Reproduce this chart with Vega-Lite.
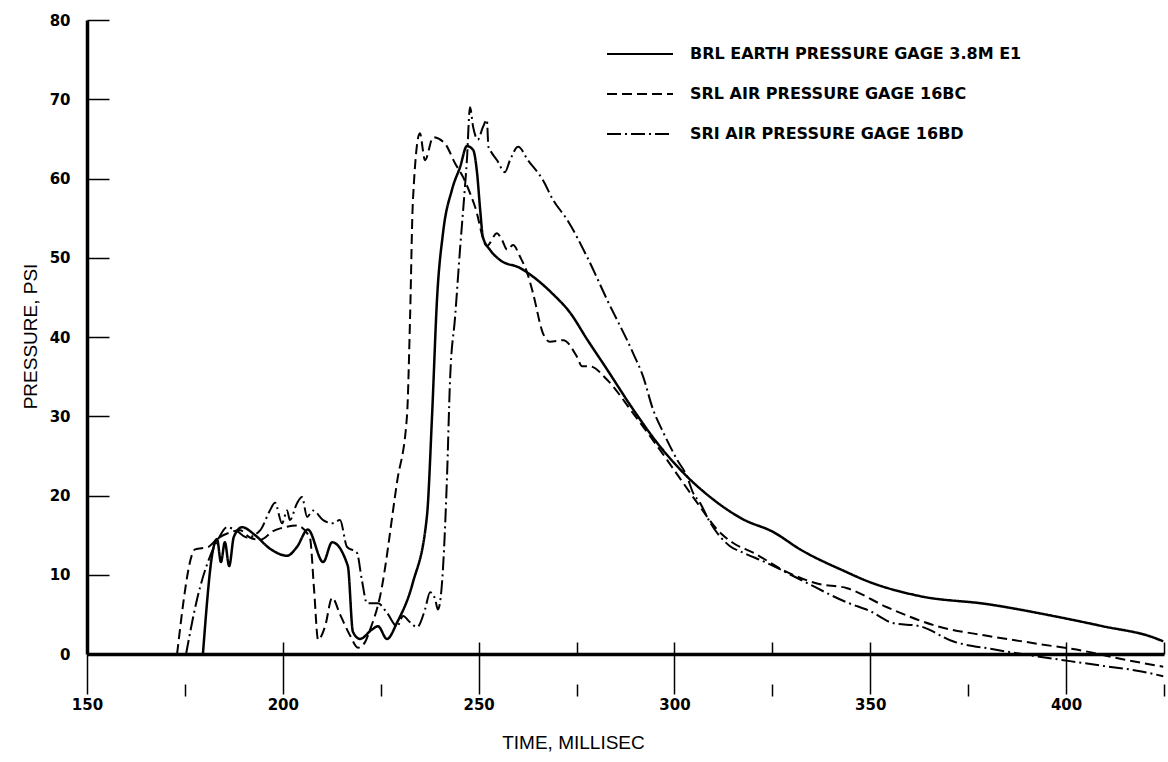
{
  "$schema": "https://vega.github.io/schema/vega-lite/v6.json",
  "width": 1077,
  "height": 634,
  "autosize": {"type": "none"},
  "padding": {"left": 87, "top": 20, "right": 4, "bottom": 108},
  "background": "white",
  "config": {"view": {"stroke": null}},
  "datasets": {
    "brl": [
      {"series": "BRL EARTH PRESSURE GAGE 3.8M E1", "t": 179.6, "p": 0},
      {"series": "BRL EARTH PRESSURE GAGE 3.8M E1", "t": 182.2, "p": 13.2},
      {"series": "BRL EARTH PRESSURE GAGE 3.8M E1", "t": 183.2, "p": 14.5},
      {"series": "BRL EARTH PRESSURE GAGE 3.8M E1", "t": 184.2, "p": 11.6},
      {"series": "BRL EARTH PRESSURE GAGE 3.8M E1", "t": 185.2, "p": 14.1},
      {"series": "BRL EARTH PRESSURE GAGE 3.8M E1", "t": 186.3, "p": 11.1},
      {"series": "BRL EARTH PRESSURE GAGE 3.8M E1", "t": 187.5, "p": 14.8},
      {"series": "BRL EARTH PRESSURE GAGE 3.8M E1", "t": 189.6, "p": 16.0},
      {"series": "BRL EARTH PRESSURE GAGE 3.8M E1", "t": 192.9, "p": 15.0},
      {"series": "BRL EARTH PRESSURE GAGE 3.8M E1", "t": 196.7, "p": 13.3},
      {"series": "BRL EARTH PRESSURE GAGE 3.8M E1", "t": 201.1, "p": 12.4},
      {"series": "BRL EARTH PRESSURE GAGE 3.8M E1", "t": 203.6, "p": 13.5},
      {"series": "BRL EARTH PRESSURE GAGE 3.8M E1", "t": 206.4, "p": 15.7},
      {"series": "BRL EARTH PRESSURE GAGE 3.8M E1", "t": 210.3, "p": 11.6},
      {"series": "BRL EARTH PRESSURE GAGE 3.8M E1", "t": 212.6, "p": 14.1},
      {"series": "BRL EARTH PRESSURE GAGE 3.8M E1", "t": 216.6, "p": 11.1},
      {"series": "BRL EARTH PRESSURE GAGE 3.8M E1", "t": 217.9, "p": 2.8},
      {"series": "BRL EARTH PRESSURE GAGE 3.8M E1", "t": 219.7, "p": 1.9},
      {"series": "BRL EARTH PRESSURE GAGE 3.8M E1", "t": 222.8, "p": 3.1},
      {"series": "BRL EARTH PRESSURE GAGE 3.8M E1", "t": 224.3, "p": 3.5},
      {"series": "BRL EARTH PRESSURE GAGE 3.8M E1", "t": 226.6, "p": 1.9},
      {"series": "BRL EARTH PRESSURE GAGE 3.8M E1", "t": 229.2, "p": 4.0},
      {"series": "BRL EARTH PRESSURE GAGE 3.8M E1", "t": 233.2, "p": 9.0},
      {"series": "BRL EARTH PRESSURE GAGE 3.8M E1", "t": 236.8, "p": 17.4},
      {"series": "BRL EARTH PRESSURE GAGE 3.8M E1", "t": 238.1, "p": 30.0},
      {"series": "BRL EARTH PRESSURE GAGE 3.8M E1", "t": 239.4, "p": 45.0},
      {"series": "BRL EARTH PRESSURE GAGE 3.8M E1", "t": 240.9, "p": 53.1},
      {"series": "BRL EARTH PRESSURE GAGE 3.8M E1", "t": 243.2, "p": 58.6},
      {"series": "BRL EARTH PRESSURE GAGE 3.8M E1", "t": 245.3, "p": 61.5},
      {"series": "BRL EARTH PRESSURE GAGE 3.8M E1", "t": 247.0, "p": 64.1},
      {"series": "BRL EARTH PRESSURE GAGE 3.8M E1", "t": 248.6, "p": 63.6},
      {"series": "BRL EARTH PRESSURE GAGE 3.8M E1", "t": 249.6, "p": 60.7},
      {"series": "BRL EARTH PRESSURE GAGE 3.8M E1", "t": 250.4, "p": 56.0},
      {"series": "BRL EARTH PRESSURE GAGE 3.8M E1", "t": 251.1, "p": 52.6},
      {"series": "BRL EARTH PRESSURE GAGE 3.8M E1", "t": 252.9, "p": 51.0},
      {"series": "BRL EARTH PRESSURE GAGE 3.8M E1", "t": 255.5, "p": 49.7},
      {"series": "BRL EARTH PRESSURE GAGE 3.8M E1", "t": 260.6, "p": 48.7},
      {"series": "BRL EARTH PRESSURE GAGE 3.8M E1", "t": 263.1, "p": 47.9},
      {"series": "BRL EARTH PRESSURE GAGE 3.8M E1", "t": 269.0, "p": 45.4},
      {"series": "BRL EARTH PRESSURE GAGE 3.8M E1", "t": 273.3, "p": 43.1},
      {"series": "BRL EARTH PRESSURE GAGE 3.8M E1", "t": 277.7, "p": 39.7},
      {"series": "BRL EARTH PRESSURE GAGE 3.8M E1", "t": 282.8, "p": 35.9},
      {"series": "BRL EARTH PRESSURE GAGE 3.8M E1", "t": 289.4, "p": 30.9},
      {"series": "BRL EARTH PRESSURE GAGE 3.8M E1", "t": 296.3, "p": 26.2},
      {"series": "BRL EARTH PRESSURE GAGE 3.8M E1", "t": 303.2, "p": 22.4},
      {"series": "BRL EARTH PRESSURE GAGE 3.8M E1", "t": 309.9, "p": 19.5},
      {"series": "BRL EARTH PRESSURE GAGE 3.8M E1", "t": 317.5, "p": 17.0},
      {"series": "BRL EARTH PRESSURE GAGE 3.8M E1", "t": 325.2, "p": 15.4},
      {"series": "BRL EARTH PRESSURE GAGE 3.8M E1", "t": 332.1, "p": 13.2},
      {"series": "BRL EARTH PRESSURE GAGE 3.8M E1", "t": 344.1, "p": 10.3},
      {"series": "BRL EARTH PRESSURE GAGE 3.8M E1", "t": 348.2, "p": 9.4},
      {"series": "BRL EARTH PRESSURE GAGE 3.8M E1", "t": 362.7, "p": 7.3},
      {"series": "BRL EARTH PRESSURE GAGE 3.8M E1", "t": 379.8, "p": 6.3},
      {"series": "BRL EARTH PRESSURE GAGE 3.8M E1", "t": 396.7, "p": 4.8},
      {"series": "BRL EARTH PRESSURE GAGE 3.8M E1", "t": 409.4, "p": 3.5},
      {"series": "BRL EARTH PRESSURE GAGE 3.8M E1", "t": 422.2, "p": 2.1},
      {"series": "BRL EARTH PRESSURE GAGE 3.8M E1", "t": 424.8, "p": 1.6}
    ],
    "srl": [
      {"series": "SRL AIR PRESSURE GAGE 16BC", "t": 173.0, "p": 0},
      {"series": "SRL AIR PRESSURE GAGE 16BC", "t": 177.6, "p": 13.2},
      {"series": "SRL AIR PRESSURE GAGE 16BC", "t": 180.9, "p": 13.5},
      {"series": "SRL AIR PRESSURE GAGE 16BC", "t": 183.2, "p": 14.5},
      {"series": "SRL AIR PRESSURE GAGE 16BC", "t": 185.8, "p": 15.2},
      {"series": "SRL AIR PRESSURE GAGE 16BC", "t": 189.1, "p": 15.6},
      {"series": "SRL AIR PRESSURE GAGE 16BC", "t": 191.6, "p": 14.7},
      {"series": "SRL AIR PRESSURE GAGE 16BC", "t": 194.2, "p": 14.4},
      {"series": "SRL AIR PRESSURE GAGE 16BC", "t": 197.5, "p": 15.5},
      {"series": "SRL AIR PRESSURE GAGE 16BC", "t": 200.5, "p": 16.0},
      {"series": "SRL AIR PRESSURE GAGE 16BC", "t": 203.6, "p": 16.2},
      {"series": "SRL AIR PRESSURE GAGE 16BC", "t": 206.9, "p": 14.7},
      {"series": "SRL AIR PRESSURE GAGE 16BC", "t": 208.0, "p": 8.0},
      {"series": "SRL AIR PRESSURE GAGE 16BC", "t": 209.0, "p": 1.8},
      {"series": "SRL AIR PRESSURE GAGE 16BC", "t": 210.8, "p": 3.5},
      {"series": "SRL AIR PRESSURE GAGE 16BC", "t": 212.6, "p": 7.1},
      {"series": "SRL AIR PRESSURE GAGE 16BC", "t": 214.6, "p": 5.0},
      {"series": "SRL AIR PRESSURE GAGE 16BC", "t": 217.2, "p": 2.3},
      {"series": "SRL AIR PRESSURE GAGE 16BC", "t": 219.2, "p": 0.8},
      {"series": "SRL AIR PRESSURE GAGE 16BC", "t": 221.0, "p": 1.5},
      {"series": "SRL AIR PRESSURE GAGE 16BC", "t": 222.3, "p": 3.1},
      {"series": "SRL AIR PRESSURE GAGE 16BC", "t": 224.8, "p": 7.2},
      {"series": "SRL AIR PRESSURE GAGE 16BC", "t": 229.2, "p": 21.8},
      {"series": "SRL AIR PRESSURE GAGE 16BC", "t": 231.7, "p": 30.0},
      {"series": "SRL AIR PRESSURE GAGE 16BC", "t": 232.5, "p": 42.6},
      {"series": "SRL AIR PRESSURE GAGE 16BC", "t": 233.2, "p": 57.0},
      {"series": "SRL AIR PRESSURE GAGE 16BC", "t": 235.0, "p": 65.7},
      {"series": "SRL AIR PRESSURE GAGE 16BC", "t": 236.3, "p": 62.3},
      {"series": "SRL AIR PRESSURE GAGE 16BC", "t": 238.4, "p": 65.2},
      {"series": "SRL AIR PRESSURE GAGE 16BC", "t": 241.4, "p": 64.4},
      {"series": "SRL AIR PRESSURE GAGE 16BC", "t": 244.0, "p": 61.9},
      {"series": "SRL AIR PRESSURE GAGE 16BC", "t": 246.0, "p": 60.2},
      {"series": "SRL AIR PRESSURE GAGE 16BC", "t": 249.1, "p": 56.4},
      {"series": "SRL AIR PRESSURE GAGE 16BC", "t": 252.1, "p": 51.5},
      {"series": "SRL AIR PRESSURE GAGE 16BC", "t": 254.7, "p": 53.1},
      {"series": "SRL AIR PRESSURE GAGE 16BC", "t": 256.0, "p": 52.2},
      {"series": "SRL AIR PRESSURE GAGE 16BC", "t": 257.3, "p": 51.0},
      {"series": "SRL AIR PRESSURE GAGE 16BC", "t": 258.8, "p": 51.6},
      {"series": "SRL AIR PRESSURE GAGE 16BC", "t": 260.6, "p": 50.1},
      {"series": "SRL AIR PRESSURE GAGE 16BC", "t": 262.4, "p": 48.1},
      {"series": "SRL AIR PRESSURE GAGE 16BC", "t": 263.9, "p": 45.5},
      {"series": "SRL AIR PRESSURE GAGE 16BC", "t": 266.4, "p": 40.5},
      {"series": "SRL AIR PRESSURE GAGE 16BC", "t": 268.2, "p": 39.4},
      {"series": "SRL AIR PRESSURE GAGE 16BC", "t": 271.6, "p": 39.6},
      {"series": "SRL AIR PRESSURE GAGE 16BC", "t": 275.1, "p": 37.5},
      {"series": "SRL AIR PRESSURE GAGE 16BC", "t": 276.4, "p": 36.3},
      {"series": "SRL AIR PRESSURE GAGE 16BC", "t": 278.4, "p": 36.3},
      {"series": "SRL AIR PRESSURE GAGE 16BC", "t": 282.8, "p": 34.6},
      {"series": "SRL AIR PRESSURE GAGE 16BC", "t": 289.4, "p": 30.4},
      {"series": "SRL AIR PRESSURE GAGE 16BC", "t": 298.1, "p": 24.5},
      {"series": "SRL AIR PRESSURE GAGE 16BC", "t": 302.2, "p": 21.6},
      {"series": "SRL AIR PRESSURE GAGE 16BC", "t": 306.5, "p": 18.6},
      {"series": "SRL AIR PRESSURE GAGE 16BC", "t": 310.9, "p": 15.7},
      {"series": "SRL AIR PRESSURE GAGE 16BC", "t": 315.0, "p": 14.0},
      {"series": "SRL AIR PRESSURE GAGE 16BC", "t": 320.1, "p": 12.8},
      {"series": "SRL AIR PRESSURE GAGE 16BC", "t": 327.7, "p": 10.6},
      {"series": "SRL AIR PRESSURE GAGE 16BC", "t": 336.4, "p": 8.9},
      {"series": "SRL AIR PRESSURE GAGE 16BC", "t": 344.1, "p": 8.3},
      {"series": "SRL AIR PRESSURE GAGE 16BC", "t": 354.3, "p": 5.9},
      {"series": "SRL AIR PRESSURE GAGE 16BC", "t": 367.1, "p": 3.5},
      {"series": "SRL AIR PRESSURE GAGE 16BC", "t": 379.8, "p": 2.3},
      {"series": "SRL AIR PRESSURE GAGE 16BC", "t": 392.6, "p": 1.3},
      {"series": "SRL AIR PRESSURE GAGE 16BC", "t": 405.4, "p": 0.3},
      {"series": "SRL AIR PRESSURE GAGE 16BC", "t": 413.8, "p": -0.6},
      {"series": "SRL AIR PRESSURE GAGE 16BC", "t": 424.8, "p": -1.6}
    ],
    "sri": [
      {"series": "SRI AIR PRESSURE GAGE 16BD", "t": 175.3, "p": 0},
      {"series": "SRI AIR PRESSURE GAGE 16BD", "t": 178.1, "p": 6.9},
      {"series": "SRI AIR PRESSURE GAGE 16BD", "t": 181.4, "p": 12.3},
      {"series": "SRI AIR PRESSURE GAGE 16BD", "t": 183.5, "p": 14.5},
      {"series": "SRI AIR PRESSURE GAGE 16BD", "t": 185.8, "p": 16.0},
      {"series": "SRI AIR PRESSURE GAGE 16BD", "t": 188.3, "p": 15.5},
      {"series": "SRI AIR PRESSURE GAGE 16BD", "t": 190.9, "p": 14.7},
      {"series": "SRI AIR PRESSURE GAGE 16BD", "t": 194.2, "p": 15.6},
      {"series": "SRI AIR PRESSURE GAGE 16BD", "t": 196.7, "p": 18.1},
      {"series": "SRI AIR PRESSURE GAGE 16BD", "t": 198.0, "p": 19.1},
      {"series": "SRI AIR PRESSURE GAGE 16BD", "t": 199.8, "p": 16.5},
      {"series": "SRI AIR PRESSURE GAGE 16BD", "t": 201.1, "p": 18.1},
      {"series": "SRI AIR PRESSURE GAGE 16BD", "t": 201.8, "p": 16.9},
      {"series": "SRI AIR PRESSURE GAGE 16BD", "t": 203.6, "p": 19.0},
      {"series": "SRI AIR PRESSURE GAGE 16BD", "t": 204.9, "p": 19.8},
      {"series": "SRI AIR PRESSURE GAGE 16BD", "t": 206.2, "p": 17.3},
      {"series": "SRI AIR PRESSURE GAGE 16BD", "t": 207.7, "p": 18.1},
      {"series": "SRI AIR PRESSURE GAGE 16BD", "t": 210.3, "p": 16.9},
      {"series": "SRI AIR PRESSURE GAGE 16BD", "t": 212.6, "p": 16.5},
      {"series": "SRI AIR PRESSURE GAGE 16BD", "t": 214.6, "p": 16.9},
      {"series": "SRI AIR PRESSURE GAGE 16BD", "t": 216.4, "p": 13.5},
      {"series": "SRI AIR PRESSURE GAGE 16BD", "t": 218.9, "p": 12.8},
      {"series": "SRI AIR PRESSURE GAGE 16BD", "t": 220.2, "p": 9.3},
      {"series": "SRI AIR PRESSURE GAGE 16BD", "t": 221.5, "p": 6.4},
      {"series": "SRI AIR PRESSURE GAGE 16BD", "t": 224.3, "p": 6.4},
      {"series": "SRI AIR PRESSURE GAGE 16BD", "t": 226.6, "p": 5.2},
      {"series": "SRI AIR PRESSURE GAGE 16BD", "t": 229.2, "p": 3.5},
      {"series": "SRI AIR PRESSURE GAGE 16BD", "t": 230.7, "p": 4.8},
      {"series": "SRI AIR PRESSURE GAGE 16BD", "t": 232.5, "p": 4.0},
      {"series": "SRI AIR PRESSURE GAGE 16BD", "t": 234.3, "p": 3.4},
      {"series": "SRI AIR PRESSURE GAGE 16BD", "t": 236.3, "p": 5.6},
      {"series": "SRI AIR PRESSURE GAGE 16BD", "t": 237.6, "p": 7.8},
      {"series": "SRI AIR PRESSURE GAGE 16BD", "t": 238.9, "p": 6.9},
      {"series": "SRI AIR PRESSURE GAGE 16BD", "t": 239.6, "p": 5.6},
      {"series": "SRI AIR PRESSURE GAGE 16BD", "t": 240.7, "p": 9.3},
      {"series": "SRI AIR PRESSURE GAGE 16BD", "t": 241.9, "p": 22.0},
      {"series": "SRI AIR PRESSURE GAGE 16BD", "t": 242.7, "p": 34.6},
      {"series": "SRI AIR PRESSURE GAGE 16BD", "t": 244.0, "p": 42.6},
      {"series": "SRI AIR PRESSURE GAGE 16BD", "t": 245.3, "p": 51.4},
      {"series": "SRI AIR PRESSURE GAGE 16BD", "t": 246.5, "p": 58.9},
      {"series": "SRI AIR PRESSURE GAGE 16BD", "t": 247.0, "p": 62.3},
      {"series": "SRI AIR PRESSURE GAGE 16BD", "t": 247.8, "p": 69.0},
      {"series": "SRI AIR PRESSURE GAGE 16BD", "t": 248.6, "p": 66.5},
      {"series": "SRI AIR PRESSURE GAGE 16BD", "t": 249.8, "p": 64.9},
      {"series": "SRI AIR PRESSURE GAGE 16BD", "t": 251.1, "p": 66.5},
      {"series": "SRI AIR PRESSURE GAGE 16BD", "t": 252.1, "p": 67.4},
      {"series": "SRI AIR PRESSURE GAGE 16BD", "t": 252.5, "p": 64.0},
      {"series": "SRI AIR PRESSURE GAGE 16BD", "t": 253.4, "p": 63.2},
      {"series": "SRI AIR PRESSURE GAGE 16BD", "t": 254.7, "p": 62.3},
      {"series": "SRI AIR PRESSURE GAGE 16BD", "t": 256.7, "p": 60.8},
      {"series": "SRI AIR PRESSURE GAGE 16BD", "t": 258.0, "p": 62.3},
      {"series": "SRI AIR PRESSURE GAGE 16BD", "t": 260.1, "p": 64.0},
      {"series": "SRI AIR PRESSURE GAGE 16BD", "t": 262.6, "p": 62.3},
      {"series": "SRI AIR PRESSURE GAGE 16BD", "t": 266.4, "p": 59.8},
      {"series": "SRI AIR PRESSURE GAGE 16BD", "t": 269.0, "p": 57.3},
      {"series": "SRI AIR PRESSURE GAGE 16BD", "t": 272.6, "p": 54.8},
      {"series": "SRI AIR PRESSURE GAGE 16BD", "t": 277.7, "p": 50.1},
      {"series": "SRI AIR PRESSURE GAGE 16BD", "t": 282.8, "p": 44.7},
      {"series": "SRI AIR PRESSURE GAGE 16BD", "t": 289.4, "p": 38.0},
      {"series": "SRI AIR PRESSURE GAGE 16BD", "t": 292.0, "p": 35.0},
      {"series": "SRI AIR PRESSURE GAGE 16BD", "t": 294.5, "p": 30.9},
      {"series": "SRI AIR PRESSURE GAGE 16BD", "t": 297.1, "p": 28.0},
      {"series": "SRI AIR PRESSURE GAGE 16BD", "t": 300.7, "p": 24.5},
      {"series": "SRI AIR PRESSURE GAGE 16BD", "t": 303.2, "p": 22.4},
      {"series": "SRI AIR PRESSURE GAGE 16BD", "t": 304.7, "p": 20.4},
      {"series": "SRI AIR PRESSURE GAGE 16BD", "t": 306.5, "p": 19.1},
      {"series": "SRI AIR PRESSURE GAGE 16BD", "t": 309.1, "p": 16.6},
      {"series": "SRI AIR PRESSURE GAGE 16BD", "t": 314.2, "p": 13.6},
      {"series": "SRI AIR PRESSURE GAGE 16BD", "t": 317.5, "p": 12.8},
      {"series": "SRI AIR PRESSURE GAGE 16BD", "t": 323.6, "p": 11.5},
      {"series": "SRI AIR PRESSURE GAGE 16BD", "t": 332.1, "p": 9.4},
      {"series": "SRI AIR PRESSURE GAGE 16BD", "t": 344.1, "p": 6.5},
      {"series": "SRI AIR PRESSURE GAGE 16BD", "t": 350.0, "p": 5.4},
      {"series": "SRI AIR PRESSURE GAGE 16BD", "t": 355.8, "p": 3.9},
      {"series": "SRI AIR PRESSURE GAGE 16BD", "t": 362.7, "p": 3.5},
      {"series": "SRI AIR PRESSURE GAGE 16BD", "t": 371.1, "p": 1.6},
      {"series": "SRI AIR PRESSURE GAGE 16BD", "t": 381.4, "p": 0.6},
      {"series": "SRI AIR PRESSURE GAGE 16BD", "t": 392.6, "p": -0.3},
      {"series": "SRI AIR PRESSURE GAGE 16BD", "t": 401.0, "p": -0.9},
      {"series": "SRI AIR PRESSURE GAGE 16BD", "t": 409.5, "p": -1.5},
      {"series": "SRI AIR PRESSURE GAGE 16BD", "t": 418.1, "p": -2.1},
      {"series": "SRI AIR PRESSURE GAGE 16BD", "t": 424.8, "p": -2.8}
    ]
  },
  "layer": [
    {
      "data": {"name": "brl"},
      "mark": {"type": "line", "color": "black", "strokeWidth": 2.5, "interpolate": "monotone"},
      "encoding": {
        "x": {
          "field": "t", "type": "quantitative",
          "scale": {"domain": [150, 425], "nice": false, "zero": false},
          "axis": {
            "orient": "bottom",
            "values": [150, 200, 250, 300, 350, 400],
            "grid": false,
            "domainColor": "black", "domainWidth": 3.5,
            "tickColor": "black", "tickWidth": 1.5, "tickSize": 40,
            "labelFont": "DejaVu Sans", "labelFontSize": 15, "labelFontWeight": "bold", "labelColor": "black",
            "labelPadding": 3, "labelFlush": false, "labelOverlap": false,
            "title": "TIME, MILLISEC",
            "titleFont": "Liberation Sans", "titleFontSize": 19, "titleFontWeight": "normal", "titleColor": "black",
            "titleX": 486, "titleY": 88, "titleAlign": "center", "titleBaseline": "middle"
          }
        },
        "y": {
          "field": "p", "type": "quantitative",
          "scale": {"domain": [0, 80], "nice": false, "zero": false},
          "axis": {
            "orient": "left",
            "values": [0, 10, 20, 30, 40, 50, 60, 70, 80],
            "grid": false,
            "domainColor": "black", "domainWidth": 3.5,
            "tickColor": "black", "tickWidth": 1.5, "tickSize": -22,
            "labelFont": "DejaVu Sans", "labelFontSize": 15, "labelFontWeight": "bold", "labelColor": "black",
            "labelPadding": 39, "labelOverlap": false,
            "title": "PRESSURE, PSI",
            "titleFont": "Liberation Sans", "titleFontSize": 19, "titleFontWeight": "normal", "titleColor": "black",
            "titleAngle": -90, "titleX": -57, "titleY": 316, "titleAlign": "center", "titleBaseline": "middle"
          }
        },
        "strokeDash": {
          "field": "series", "type": "nominal",
          "scale": {
            "domain": ["BRL EARTH PRESSURE GAGE 3.8M E1", "SRL AIR PRESSURE GAGE 16BC", "SRI AIR PRESSURE GAGE 16BD"],
            "range": [[1, 0], [10, 5], [14, 4, 2, 4]]
          },
          "legend": {
            "orient": "none", "legendX": 541, "legendY": 22,
            "title": null, "padding": 0,
            "symbolType": "M-3,0H3", "symbolSize": 484,
            "symbolStrokeWidth": 2, "symbolStrokeColor": "black",
            "labelFont": "DejaVu Sans", "labelFontSize": 16, "labelFontWeight": "bold", "labelColor": "black",
            "labelOffset": 38, "rowPadding": 20, "labelLimit": 600
          }
        }
      }
    },
    {
      "data": {"name": "srl"},
      "mark": {"type": "line", "color": "black", "strokeWidth": 2, "interpolate": "monotone"},
      "encoding": {
        "x": {
          "field": "t", "type": "quantitative",
          "scale": {"domain": [150, 425], "nice": false, "zero": false},
          "axis": {
            "orient": "bottom", "values": [175, 225, 275, 325, 375, 425],
            "offset": 30, "domain": false, "labels": false, "grid": false,
            "tickColor": "black", "tickWidth": 1.5, "tickSize": 12, "title": null
          }
        },
        "y": {"field": "p", "type": "quantitative", "scale": {"domain": [0, 80], "nice": false, "zero": false}, "axis": null},
        "strokeDash": {"field": "series", "type": "nominal"}
      }
    },
    {
      "data": {"name": "sri"},
      "mark": {"type": "line", "color": "black", "strokeWidth": 2, "interpolate": "monotone"},
      "encoding": {
        "x": {
          "field": "t", "type": "quantitative",
          "scale": {"domain": [150, 425], "nice": false, "zero": false},
          "axis": {
            "orient": "bottom", "values": [200, 250, 275, 300, 325, 350, 400, 425],
            "offset": -12, "domain": false, "labels": false, "grid": false,
            "tickColor": "black", "tickWidth": 1.5, "tickSize": 12, "title": null
          }
        },
        "y": {"field": "p", "type": "quantitative", "scale": {"domain": [0, 80], "nice": false, "zero": false}, "axis": null},
        "strokeDash": {"field": "series", "type": "nominal"}
      }
    }
  ],
  "resolve": {"axis": {"x": "independent", "y": "independent"}}
}
